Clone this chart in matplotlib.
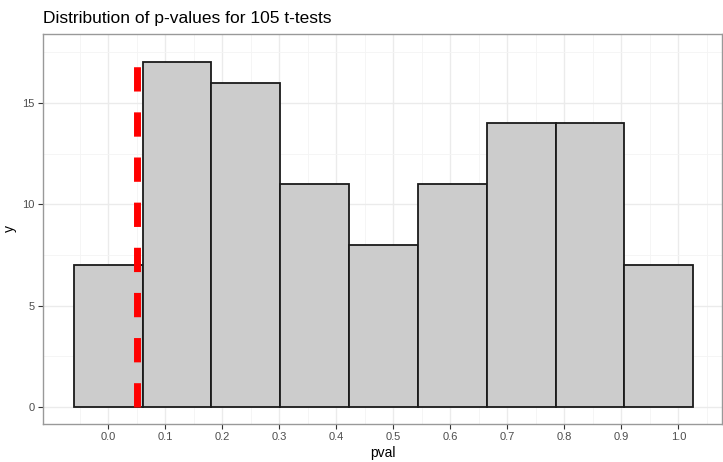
import matplotlib
matplotlib.use("Agg")
from matplotlib import pyplot as plt
import numpy as np

# histogram of p-values (bin edges and counts)
edges = [-0.060, 0.060, 0.181, 0.302, 0.423, 0.543, 0.664, 0.785, 0.905, 1.026]
counts = [7, 17, 16, 11, 8, 11, 14, 14, 7]
cutoff = 0.05
x_ticks = [0.0, 0.1, 0.2, 0.3, 0.4, 0.5, 0.6, 0.7, 0.8, 0.9, 1.0]
y_ticks = [0, 5, 10, 15]

plt.rcParams["font.family"] = ["Liberation Sans", "DejaVu Sans"]

fig = plt.figure(figsize=(7.23, 4.62), dpi=100)
ax = fig.add_axes([43 / 723, 38 / 462, 679 / 723, 390 / 462])

left = np.array(edges[:-1])
widths = np.diff(edges)
ax.bar(left, counts, width=widths, align="edge", color="#CCCCCC",
       edgecolor="#1a1a1a", linewidth=1.3, zorder=2)

ax.plot([cutoff, cutoff], [0, max(counts)], color="#FF0000", linewidth=5.0,
        dashes=(3.5, 3.0), solid_capstyle="butt", dash_capstyle="butt", zorder=3)

ax.set_xlim(-0.1146, 1.0767)
ax.set_ylim(-0.84, 18.4)
ax.set_xticks(x_ticks)
ax.set_xticklabels([f"{v:.1f}" for v in x_ticks])
ax.set_yticks(y_ticks)
ax.set_xticks(np.arange(-0.05, 1.1, 0.1), minor=True)
ax.set_yticks([2.5, 7.5, 12.5, 17.5], minor=True)

ax.grid(which="major", color="#EBEBEB", linewidth=1.0, zorder=0)
ax.grid(which="minor", color="#F4F4F4", linewidth=0.6, zorder=0)
ax.set_axisbelow(True)

ax.tick_params(which="major", length=3.5, width=0.8, color="#333333",
               labelcolor="#4D4D4D", labelsize=8, pad=2.5)
ax.tick_params(which="minor", length=0)
for s in ax.spines.values():
    s.set_color("#999999")
    s.set_linewidth(1.0)

ax.set_xlabel("pval", fontsize=10, color="black", labelpad=3)
ax.set_ylabel("y", fontsize=10, color="black", labelpad=4)
ax.set_title("Distribution of p-values for 105 t-tests", fontsize=12.5,
             loc="left", pad=8)

fig.savefig("out.png", dpi=100)
